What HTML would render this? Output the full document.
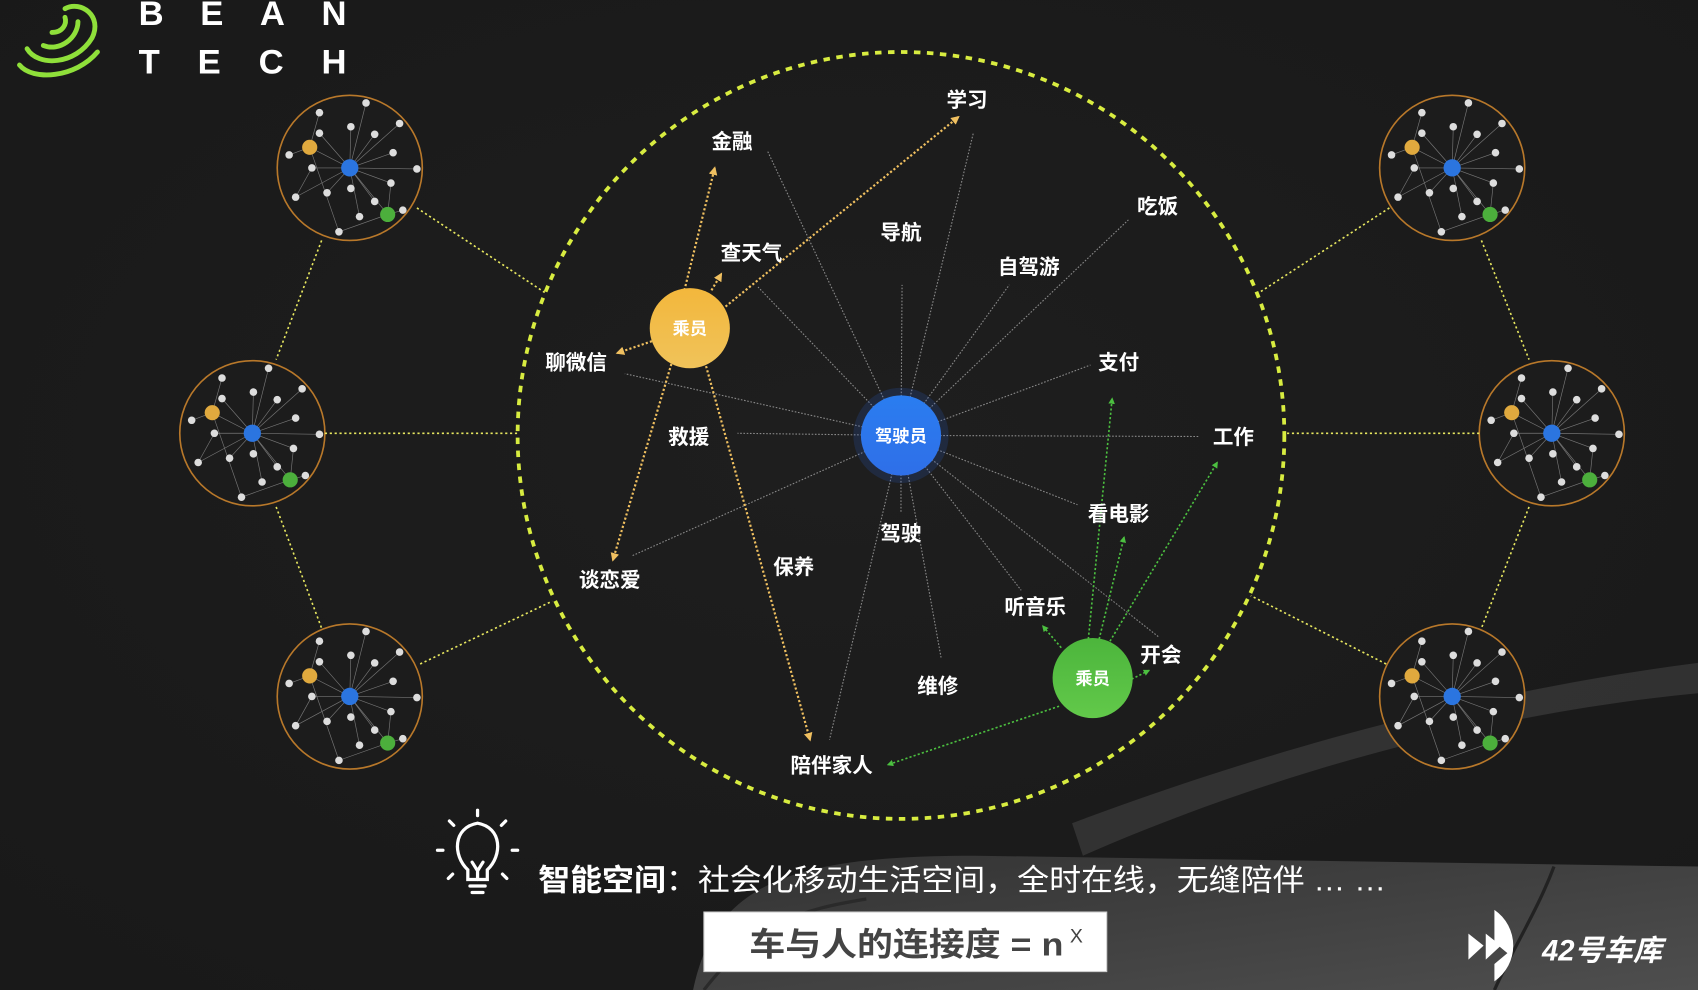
<!DOCTYPE html>
<html><head><meta charset="utf-8"><style>
html,body{margin:0;padding:0;background:#1c1c1c;overflow:hidden}
svg{display:block}
text{font-family:"Liberation Sans","Noto Sans CJK SC",sans-serif;font-weight:bold;fill:#fff}
</style></head><body>
<svg width="1698" height="990" viewBox="0 0 1568 914" preserveAspectRatio="none" xmlns="http://www.w3.org/2000/svg">
<defs>
<radialGradient id="bg" cx="0.5" cy="0.45" r="0.7"><stop offset="0" stop-color="#1e1e1e"/><stop offset="1" stop-color="#191919"/></radialGradient>
<linearGradient id="car" x1="0" y1="0" x2="1" y2="1"><stop offset="0" stop-color="#333"/><stop offset="1" stop-color="#4e4e4e"/></linearGradient>
<linearGradient id="yel" x1="0" y1="0" x2="0" y2="1"><stop offset="0" stop-color="#f3b73c"/><stop offset="1" stop-color="#f0c35a"/></linearGradient>
<linearGradient id="blu" x1="0" y1="0" x2="0" y2="1"><stop offset="0" stop-color="#2a7df0"/><stop offset="1" stop-color="#2f6fe8"/></linearGradient>
<linearGradient id="grn" x1="0" y1="0" x2="0" y2="1"><stop offset="0" stop-color="#4cb53c"/><stop offset="1" stop-color="#62c94a"/></linearGradient>
<marker id="ay" viewBox="0 0 10 10" refX="8" refY="5" markerWidth="4" markerHeight="4" orient="auto"><path d="M0,0L10,5L0,10z" fill="#f0c060"/></marker>
<marker id="ag" viewBox="0 0 10 10" refX="8" refY="5" markerWidth="4" markerHeight="4" orient="auto"><path d="M0,0L10,5L0,10z" fill="#4cc040"/></marker>
<g id="net">
<circle r="67" fill="#1c1c1c" stroke="#b8782a" stroke-width="1.5"/>
<g stroke="#777" stroke-width="0.6">
<line x1="0" y1="0" x2="15" y2="-60"/><line x1="0" y1="0" x2="-28" y2="-32"/><line x1="0" y1="0" x2="46" y2="-41"/><line x1="0" y1="0" x2="1" y2="-38"/><line x1="0" y1="0" x2="23" y2="-31"/><line x1="0" y1="0" x2="40" y2="-14"/><line x1="0" y1="0" x2="-35" y2="0"/><line x1="0" y1="0" x2="62" y2="1"/><line x1="0" y1="0" x2="38" y2="14"/><line x1="0" y1="0" x2="-21" y2="23"/><line x1="0" y1="0" x2="-50" y2="27"/><line x1="0" y1="0" x2="23" y2="31"/><line x1="0" y1="0" x2="35" y2="43"/><line x1="0" y1="0" x2="-37" y2="-19"/><line x1="0" y1="0" x2="9" y2="45"/><line x1="-37" y1="-19" x2="-10" y2="59"/><line x1="-37" y1="-19" x2="-28" y2="-51"/><line x1="-37" y1="-19" x2="-56" y2="-12"/><line x1="35" y1="43" x2="49" y2="39"/><line x1="35" y1="43" x2="38" y2="14"/><line x1="-10" y1="59" x2="35" y2="43"/><line x1="-50" y1="27" x2="-35" y2="0"/>
</g>
<g fill="#ddd">
<circle cx="15" cy="-60" r="3.5"/><circle cx="-28" cy="-51" r="3.5"/><circle cx="46" cy="-41" r="3.5"/><circle cx="1" cy="-38" r="3.5"/><circle cx="-28" cy="-32" r="3.5"/><circle cx="23" cy="-31" r="3.5"/><circle cx="-56" cy="-12" r="3.5"/><circle cx="40" cy="-14" r="3.5"/><circle cx="-35" cy="0" r="3.5"/><circle cx="62" cy="1" r="3.5"/><circle cx="38" cy="14" r="3.5"/><circle cx="-21" cy="23" r="3.5"/><circle cx="1" cy="19" r="3.5"/><circle cx="-50" cy="27" r="3.5"/><circle cx="23" cy="31" r="3.5"/><circle cx="49" cy="39" r="3.5"/><circle cx="9" cy="45" r="3.5"/><circle cx="-10" cy="59" r="3.5"/>
</g>
<circle cx="-37" cy="-19" r="7" fill="#e0a93e"/><circle cx="35" cy="43" r="7" fill="#4caf3c"/><circle cx="0" cy="0" r="8" fill="#2b75e0"/>
</g>
</defs>
<rect width="1568" height="914" fill="url(#bg)"/>
<!-- car background -->
<path d="M990,760 C1150,700 1350,640 1568,612 L1568,640 C1360,660 1160,720 1000,790 Z" fill="#3c3c3c" opacity="0.7"/>
<path d="M640,914 C660,820 720,790 900,790 L1568,800 L1568,914 Z" fill="url(#car)"/>
<path d="M1435,800 C1420,840 1400,870 1380,914" stroke="#222" stroke-width="3" fill="none"/>
<path d="M650,914 C700,850 740,840 800,830" stroke="#2a2a2a" stroke-width="3" fill="none"/>

<!-- logo -->
<g fill="none" stroke="#8fe03a" stroke-width="4.5" stroke-linecap="round">
<path d="M18,60 C30,75 70,72 90,48"/><path d="M25,45 C35,62 70,60 85,35 C95,15 75,0 60,8"/><path d="M40,42 C55,48 72,35 72,20"/><path d="M48,30 C58,30 62,22 60,16"/>
</g>
<text x="128" y="23" font-size="32" textLength="192" lengthAdjust="spacing">BEAN</text>
<text x="128" y="68" font-size="32" textLength="192" lengthAdjust="spacing">TECH</text>

<!-- small networks -->
<use href="#net" x="323" y="155"/><use href="#net" x="233" y="400"/><use href="#net" x="323" y="643"/>
<use href="#net" x="1341" y="155"/><use href="#net" x="1433" y="400"/><use href="#net" x="1341" y="643"/>
<g stroke="#e8e860" stroke-width="1.5" stroke-dasharray="2 2.5" fill="none">
<line x1="385" y1="192" x2="503" y2="270"/><line x1="300" y1="400" x2="478" y2="400"/><line x1="388" y1="613" x2="510" y2="555"/>
<line x1="297" y1="222" x2="255" y2="332"/><line x1="255" y1="468" x2="297" y2="580"/>
<line x1="1283" y1="192" x2="1163" y2="270"/><line x1="1366" y1="400" x2="1186" y2="400"/><line x1="1280" y1="613" x2="1155" y2="550"/>
<line x1="1368" y1="222" x2="1412" y2="332"/><line x1="1412" y1="468" x2="1368" y2="580"/>
</g>
<!-- big dashed circle -->
<circle cx="832" cy="402" r="354" fill="none" stroke="#d8ec40" stroke-width="3.5" stroke-dasharray="6 6"/>

<!-- driver lines -->
<g stroke="#8a8a8a" stroke-width="1" stroke-dasharray="1.5 1.5">
<line x1="832" y1="402" x2="709" y2="140"/><line x1="832" y1="402" x2="899" y2="122"/><line x1="832" y1="402" x2="833" y2="263"/><line x1="832" y1="402" x2="932" y2="263"/><line x1="832" y1="402" x2="1042" y2="203"/><line x1="832" y1="402" x2="700" y2="265"/><line x1="832" y1="402" x2="1007" y2="337"/><line x1="832" y1="402" x2="577" y2="345"/><line x1="832" y1="402" x2="681" y2="400"/><line x1="832" y1="402" x2="1108" y2="403"/><line x1="832" y1="402" x2="995" y2="466"/><line x1="832" y1="402" x2="832" y2="474"/><line x1="832" y1="402" x2="584" y2="513"/><line x1="832" y1="402" x2="766" y2="683"/><line x1="832" y1="402" x2="869" y2="607"/><line x1="832" y1="402" x2="943" y2="545"/><line x1="832" y1="402" x2="1070" y2="588"/>
</g>
<!-- passenger arrows -->
<g stroke="#f0c060" stroke-width="2" stroke-dasharray="2 2" marker-end="url(#ay)">
<line x1="632" y1="268" x2="660" y2="155"/><line x1="657" y1="268" x2="666" y2="253"/><line x1="670" y1="283" x2="885" y2="108"/><line x1="602" y1="315" x2="570" y2="326"/><line x1="620" y1="336" x2="566" y2="517"/><line x1="652" y1="338" x2="748" y2="683"/>
</g>
<g stroke="#4cc040" stroke-width="1.5" stroke-dasharray="2 2" marker-end="url(#ag)">
<line x1="1005" y1="590" x2="1027" y2="368"/><line x1="1015" y1="590" x2="1038" y2="496"/><line x1="1025" y1="592" x2="1124" y2="427"/><line x1="980" y1="598" x2="963" y2="578"/><line x1="1045" y1="627" x2="1061" y2="619"/><line x1="978" y1="652" x2="820" y2="706"/>
</g>
<!-- nodes -->
<circle cx="832" cy="402" r="44" fill="#2a66d8" opacity="0.18"/>
<circle cx="832" cy="402" r="37" fill="url(#blu)"/>
<circle cx="637" cy="303" r="37" fill="url(#yel)"/>
<circle cx="1009" cy="626" r="37" fill="url(#grn)"/>
<g font-size="16" text-anchor="middle"><text x="832" y="408">驾驶员</text><text x="637" y="309">乘员</text><text x="1009" y="632">乘员</text></g>
<!-- labels -->
<g font-size="19" text-anchor="middle">
<text x="893" y="99">学习</text><text x="676" y="137">金融</text><text x="1069" y="197">吃饭</text><text x="832" y="221">导航</text><text x="694" y="240">查天气</text><text x="950" y="253">自驾游</text><text x="1033" y="341">支付</text><text x="532" y="341">聊微信</text><text x="636" y="410">救援</text><text x="1139" y="410">工作</text><text x="1033" y="481">看电影</text><text x="832" y="499">驾驶</text><text x="733" y="530">保养</text><text x="563" y="542">谈恋爱</text><text x="956" y="567">听音乐</text><text x="1072" y="611">开会</text><text x="866" y="640">维修</text><text x="768" y="713">陪伴家人</text>
</g>
<!-- bulb -->
<g stroke="#fff" stroke-width="3" fill="none" stroke-linecap="round">
<path d="M432,803 C418,790 418,764 441,760 C464,764 464,790 450,803 L450,812 L432,812 Z"/>
<path d="M436,796 L441,804 L446,796 M441,804 L441,812"/>
<line x1="434" y1="818" x2="448" y2="818"/><line x1="436" y1="824" x2="446" y2="824"/>
<line x1="441" y1="748" x2="441" y2="753"/><line x1="415" y1="758" x2="419" y2="762"/><line x1="467" y1="758" x2="463" y2="762"/><line x1="404" y1="785" x2="409" y2="785"/><line x1="473" y1="785" x2="478" y2="785"/><line x1="414" y1="811" x2="418" y2="807"/><line x1="468" y1="811" x2="464" y2="807"/>
</g>
<text x="497" y="822" font-size="28" textLength="783" lengthAdjust="spacingAndGlyphs">智能空间<tspan font-weight="normal">：社会化移动生活空间，全时在线，无缝陪伴 … …</tspan></text>
<rect x="650" y="842" width="372" height="55" fill="#fff" stroke="#ccc"/>
<text x="692" y="882" font-size="30" style="fill:#444" textLength="290" lengthAdjust="spacingAndGlyphs">车与人的连接度 = n</text>
<text x="988" y="870" font-size="18" style="fill:#444;font-weight:normal">X</text>
<!-- 42 logo -->
<path d="M1380,840 A40,40 0 0 1 1380,906 L1380,890 L1392,880 L1380,870 Z" fill="#fff"/>
<path d="M1356,862 L1370,873 L1356,886 Z M1372,862 L1386,873 L1372,886 Z" fill="#fff"/>
<text x="1424" y="887" font-size="27" style="font-style:italic">42号车库</text>
</svg>
</body></html>
